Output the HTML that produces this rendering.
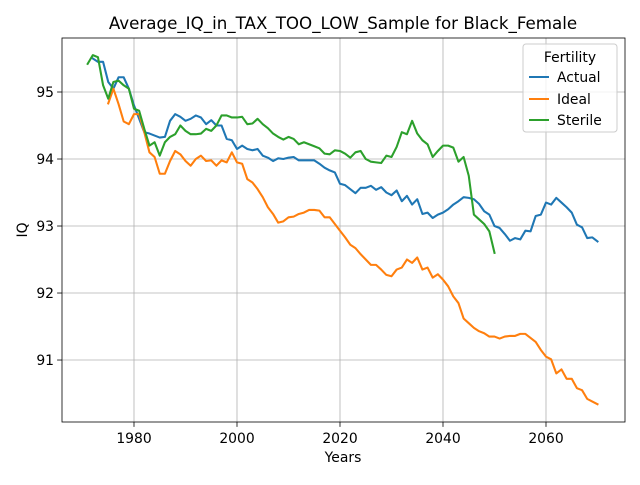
<!DOCTYPE html>
<html><head><meta charset="utf-8"><style>
body{margin:0;background:#fff;font-family:"Liberation Sans","DejaVu Sans",sans-serif}
svg text{font-family:"DejaVu Sans","Liberation Sans",sans-serif}
</style></head><body>
<svg id="chart" width="640" height="480" xmlns="http://www.w3.org/2000/svg">
<rect width="640" height="480" fill="#fff"/>
<g id="grid"></g><g id="series"></g><g id="axes"></g>
<text x="343" y="29" text-anchor="middle" font-size="16.7">Average_IQ_in_TAX_TOO_LOW_Sample for Black_Female</text>
<text x="343" y="462" text-anchor="middle" font-size="13.9">Years</text>
<text transform="translate(27,230) rotate(-90)" text-anchor="middle" font-size="13.9">IQ</text>
<g>
<rect x="523" y="44" width="94" height="88" rx="3" fill="#fff" fill-opacity="0.8" stroke="#ccc"/>
<text x="570" y="62" text-anchor="middle" font-size="13.9">Fertility</text>
<g><line x1="529" y1="77" x2="549" y2="77" stroke="#1f77b4" stroke-width="2.08"/><text x="557" y="82" font-size="13.9">Actual</text></g>
<g><line x1="529" y1="99" x2="549" y2="99" stroke="#ff7f0e" stroke-width="2.08"/><text x="557" y="104" font-size="13.9">Ideal</text></g>
<g><line x1="529" y1="120" x2="549" y2="120" stroke="#2ca02c" stroke-width="2.08"/><text x="557" y="125" font-size="13.9">Sterile</text></g>
</g>
</svg>
<script>
const xTicks=[1980,2000,2020,2040,2060];
const yTicks=[91,92,93,94,95];
const actualStart=1972;
const actual=[95.5,95.45,95.45,95.15,95.05,95.22,95.22,95.05,94.8,94.6,94.4,94.38,94.35,94.32,94.33,94.57,94.67,94.63,94.57,94.6,94.65,94.62,94.52,94.58,94.5,94.5,94.3,94.28,94.15,94.2,94.15,94.13,94.15,94.05,94.02,93.97,94.01,94.0,94.02,94.03,93.98,93.98,93.98,93.98,93.93,93.87,93.83,93.8,93.63,93.61,93.55,93.49,93.57,93.57,93.6,93.54,93.58,93.5,93.46,93.53,93.37,93.45,93.32,93.4,93.18,93.2,93.12,93.17,93.2,93.25,93.32,93.37,93.43,93.42,93.4,93.33,93.22,93.17,93.0,92.97,92.88,92.78,92.82,92.8,92.93,92.92,93.15,93.17,93.35,93.32,93.42,93.35,93.28,93.2,93.02,92.98,92.82,92.83,92.77];
const idealStart=1975;
const ideal=[94.83,95.05,94.82,94.56,94.52,94.67,94.67,94.4,94.1,94.03,93.78,93.78,93.97,94.12,94.07,93.97,93.9,94.0,94.05,93.97,93.98,93.9,93.98,93.95,94.1,93.95,93.93,93.7,93.65,93.55,93.43,93.28,93.18,93.05,93.07,93.13,93.14,93.18,93.2,93.24,93.24,93.23,93.13,93.13,93.03,92.93,92.83,92.72,92.67,92.58,92.5,92.42,92.42,92.35,92.27,92.25,92.35,92.38,92.5,92.45,92.53,92.35,92.38,92.23,92.28,92.2,92.1,91.95,91.85,91.62,91.55,91.48,91.43,91.4,91.35,91.35,91.32,91.35,91.36,91.36,91.39,91.39,91.33,91.27,91.15,91.05,91.01,90.8,90.86,90.72,90.72,90.58,90.55,90.42,90.38,90.34];
const sterileStart=1971;
const sterile=[95.42,95.55,95.52,95.1,94.9,95.15,95.17,95.1,95.05,94.75,94.72,94.45,94.2,94.25,94.05,94.25,94.33,94.37,94.5,94.42,94.37,94.37,94.38,94.45,94.42,94.5,94.65,94.65,94.62,94.62,94.63,94.52,94.53,94.6,94.52,94.46,94.38,94.33,94.29,94.33,94.3,94.22,94.25,94.22,94.19,94.16,94.08,94.07,94.13,94.12,94.08,94.02,94.1,94.12,94.0,93.96,93.95,93.94,94.05,94.03,94.18,94.4,94.37,94.57,94.38,94.28,94.22,94.03,94.12,94.2,94.2,94.17,93.96,94.03,93.75,93.17,93.1,93.03,92.92,92.6];
const L=62,R=625,T=38,B=422;
const xMin=1966.02,xMax=2075.34,yMin=90.075,yMax=95.806;
const sx=v=>L+(v-xMin)/(xMax-xMin)*(R-L);
const sy=v=>B-(v-yMin)/(yMax-yMin)*(B-T);
const NS="http://www.w3.org/2000/svg";
function mk(tag,attrs,parent){const e=document.createElementNS(NS,tag);for(const k in attrs)e.setAttribute(k,attrs[k]);parent.appendChild(e);return e;}
const grid=document.getElementById('grid'),axes=document.getElementById('axes'),ser=document.getElementById('series');
xTicks.forEach(t=>{const x=sx(t);
const g=mk('line',{x1:x,x2:x,y1:T,y2:B,stroke:'#b0b0b0','stroke-width':0.8},grid);


mk('line',{x1:x,x2:x,y1:B,y2:B+4.9,stroke:'#000','stroke-width':0.8},axes);
const tx=mk('text',{x:x,y:B+21,'text-anchor':'middle','font-size':13.9},axes);tx.textContent=t;

});
yTicks.forEach(t=>{const y=sy(t);
const g=mk('line',{x1:L,x2:R,y1:y,y2:y,stroke:'#b0b0b0','stroke-width':0.8},grid);


mk('line',{x1:L-4.9,x2:L,y1:y,y2:y,stroke:'#000','stroke-width':0.8},axes);
const tx=mk('text',{x:L-8,y:y+5,'text-anchor':'end','font-size':13.9},axes);tx.textContent=t;

});
const fr=mk('rect',{x:L,y:T,width:R-L,height:B-T,fill:'none',stroke:'#000','stroke-width':0.8},axes);


function line(vals,start,color,name){const d=vals.map((v,i)=>(i?'L':'M')+sx(start+i).toFixed(2)+','+sy(v).toFixed(2)).join('');
const p=mk('path',{d:d,fill:'none',stroke:color,'stroke-width':2.08,'stroke-linejoin':'round','stroke-linecap':'square'},ser);

}
line(actual,actualStart,'#1f77b4','actual-line');
line(ideal,idealStart,'#ff7f0e','ideal-line');
line(sterile,sterileStart,'#2ca02c','sterile-line');
</script>
</body></html>
